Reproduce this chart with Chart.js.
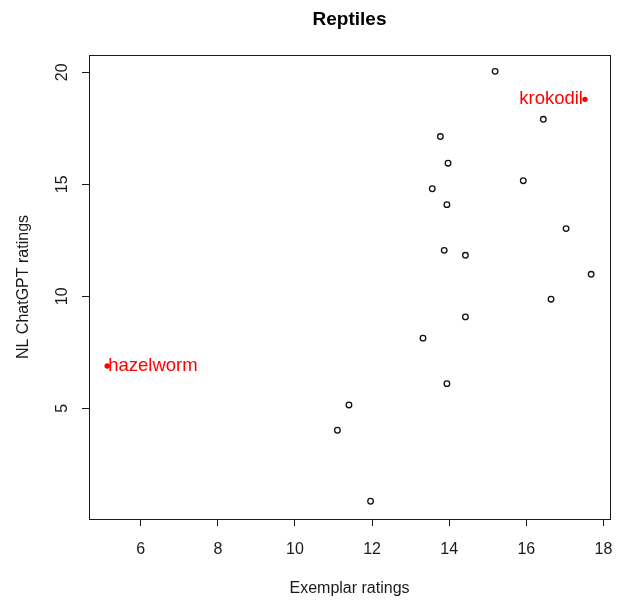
<!DOCTYPE html>
<html>
<head>
<meta charset="utf-8">
<title>Reptiles</title>
<script src="https://cdn.jsdelivr.net/npm/chart.js@4/dist/chart.umd.min.js"></script>
<style>
  html, body { margin: 0; padding: 0; background: #fff; }
  #wrap { width: 617px; height: 600px; }
</style>
</head>
<body>
<div id="wrap"><canvas id="chart" width="617" height="600"></canvas></div>
<script>
// plain items: exemplar rating (x) vs NL ChatGPT rating (y)
const exemplar = [15.19, 16.44, 13.77, 13.97, 15.92, 13.56, 13.94, 17.03, 13.87,
                  14.42, 17.68, 16.64, 14.42, 13.32, 13.94, 11.40, 11.10, 11.96];
const chatgpt  = [20.04, 17.90, 17.13, 15.94, 15.16, 14.80, 14.09, 13.02, 12.05,
                  11.83, 10.98,  9.87,  9.08,  8.13,  6.10,  5.15,  4.02,  0.85];

// highlighted items, labelled in red
const outlierNames = ['krokodil', 'hazelworm'];
const outlierX = [17.52, 5.13];
const outlierY = [18.79, 6.89];

const xTicks = [6, 8, 10, 12, 14, 16, 18];
const yTicks = [5, 10, 15, 20];

const TXT = '#1a1a1a';
const FONT = 'Liberation Sans, Arial, sans-serif';

// box, titles, rotated y tick labels and the red labels
const decor = {
  id: 'decor',
  afterDraw(chart) {
    const { ctx, chartArea: a, scales } = chart;
    ctx.save();
    ctx.strokeStyle = TXT;
    ctx.lineWidth = 1;
    ctx.strokeRect(Math.round(a.left) + 0.5, Math.round(a.top) + 0.5,
                   Math.round(a.right - a.left), Math.round(a.bottom - a.top));

    ctx.fillStyle = '#000';
    ctx.font = 'bold 19px ' + FONT;
    ctx.textAlign = 'center';
    ctx.textBaseline = 'middle';
    ctx.fillText('Reptiles', (a.left + a.right) / 2, 20);

    ctx.fillStyle = TXT;
    ctx.font = '16px ' + FONT;
    ctx.textBaseline = 'alphabetic';
    ctx.fillText('Exemplar ratings', (a.left + a.right) / 2, 593);

    ctx.save();
    ctx.translate(28, (a.top + a.bottom) / 2);
    ctx.rotate(-Math.PI / 2);
    ctx.fillText('NL ChatGPT ratings', 0, 0);
    ctx.restore();

    const ys = scales.y;
    for (const t of ys.ticks) {
      ctx.save();
      ctx.translate(67, ys.getPixelForValue(t.value));
      ctx.rotate(-Math.PI / 2);
      ctx.textAlign = 'center';
      ctx.fillText(String(t.value), 0, 0);
      ctx.restore();
    }

    const meta = chart.getDatasetMeta(1);
    ctx.fillStyle = '#ff0000';
    ctx.font = '18.5px ' + FONT;
    ctx.textBaseline = 'middle';
    meta.data.forEach((pt, i) => {
      const right = pt.x > (a.left + a.right) / 2;
      ctx.textAlign = right ? 'right' : 'left';
      ctx.fillText(outlierNames[i], pt.x + (right ? -2 : 1), pt.y);
    });
    ctx.restore();
  }
};

// keep the plot box fixed: no extra room for overhanging tick labels
function noOverhang(s) {
  s.paddingLeft = 0;
  s.paddingRight = 0;
  s.paddingTop = 0;
  s.paddingBottom = 0;
}

new Chart(document.getElementById('chart'), {
  type: 'scatter',
  data: {
    datasets: [
      {
        data: exemplar.map((x, i) => ({ x, y: chatgpt[i] })),
        pointStyle: 'circle',
        pointRadius: 2.8,
        pointBorderWidth: 1.3,
        pointBorderColor: '#111',
        pointBackgroundColor: 'rgba(0,0,0,0)'
      },
      {
        data: outlierX.map((x, i) => ({ x, y: outlierY[i] })),
        pointStyle: 'circle',
        pointRadius: 2.7,
        pointBorderWidth: 0,
        pointBackgroundColor: '#ff0000'
      }
    ]
  },
  options: {
    responsive: false,
    animation: false,
    events: [],
    layout: { padding: { top: 55, right: 7, left: 0, bottom: 0 } },
    plugins: { legend: { display: false }, tooltip: { enabled: false }, title: { display: false } },
    scales: {
      x: {
        type: 'linear',
        min: 4.659,
        max: 18.169,
        afterBuildTicks: s => { s.ticks = xTicks.map(v => ({ value: v })); },
        afterFit: s => { s.height = 81; noOverhang(s); },
        border: { display: false },
        grid: { drawOnChartArea: false, drawTicks: true, tickLength: 7, color: TXT, tickColor: TXT },
        ticks: { color: TXT, font: { family: FONT, size: 16 }, padding: 14, maxRotation: 0, autoSkip: false }
      },
      y: {
        type: 'linear',
        min: 0.058,
        max: 20.77,
        afterBuildTicks: s => { s.ticks = yTicks.map(v => ({ value: v })); },
        afterFit: s => { s.width = 89; noOverhang(s); },
        border: { display: false },
        grid: { drawOnChartArea: false, drawTicks: true, tickLength: 7, color: TXT, tickColor: TXT },
        ticks: { display: false }
      }
    }
  },
  plugins: [decor]
});
</script>
</body>
</html>
